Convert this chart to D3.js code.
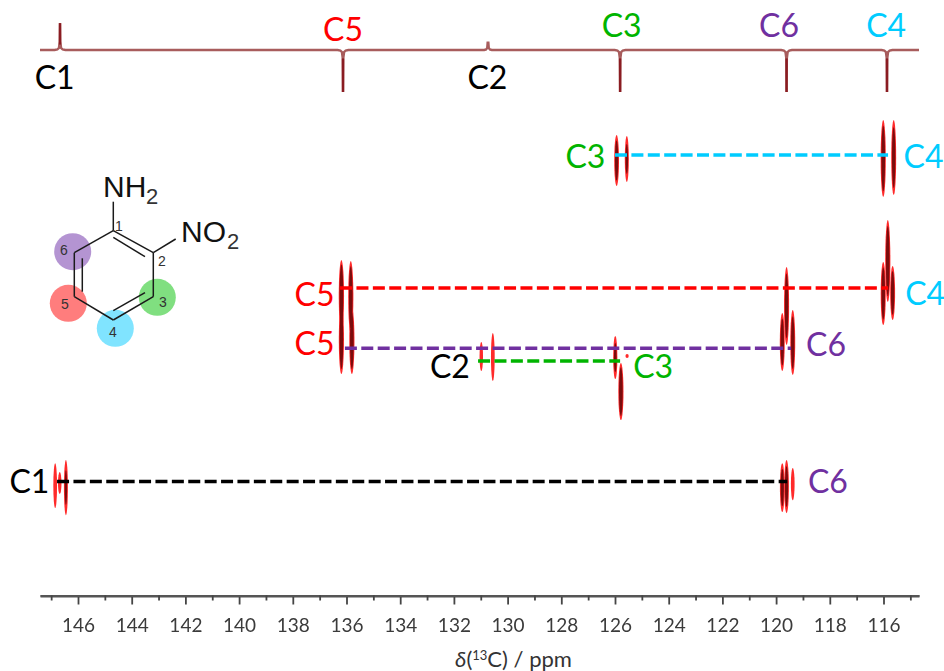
<!DOCTYPE html>
<html><head><meta charset="utf-8">
<script src="https://cdn.jsdelivr.net/npm/d3@7/dist/d3.min.js"></script>
<style>html,body{margin:0;padding:0;background:#fff}svg{display:block}</style></head>
<body><div id="chart"></div>
<script>
// ---- data ----
const majorTicks = [146,144,142,140,138,136,134,132,130,128,126,124,122,120,118,116];
const minorTicks = [147,145,143,141,139,137,135,133,131,129,127,125,123,121,119,117,115];
const axisTitle = "ppm";
// 1D spectrum: position (ppm) and signed intensity
const spectrumPpm = [146.67,136.13,130.73,125.81,119.61,115.87];
const spectrumInt = [0.64,-1,0.14,-1,-1,-1];
const carbonNames = ["C1","C5","C2","C3","C6","C4"];
// 2D contours: ppm, double-quantum range, strength
const peakPpm  = [125.94,125.56,116.01,115.62,136.19,135.84,136.19,135.8,130.98,130.55,125.99,125.78,125.55,119.61,119.77,119.38,116.01,115.84,115.66,146.85,146.68,146.45,119.77,119.61,119.38];
const peakLow  = [240.51,240.58,239.39,239.39,249.84,249.91,253.2,253.4,255.96,255.28,255.51,257.52,256.85,250.36,253.79,253.57,249.99,246.85,250.28,264.99,265.66,264.76,264.99,264.76,265.36];
const peakHigh = [244.31,244.01,245.13,244.99,255.2,255.3,258.34,258.34,258.12,258.87,258.72,261.78,257.15,256.18,258.12,258.42,254.69,252.97,254.31,268.34,267.30,268.87,268.64,268.72,267.75];
const peakPower= [0.75,0.45,0.9,0.8,0.95,0.9,0.9,0.9,0.2,0.3,0.5,0.9,0.1,0.85,0.8,0.8,0.85,0.9,0.8,0.3,0.2,0.4,0.7,0.7,0.3];
// correlation lines
const linkFrom = [126,136.24,136.06,131.1,146.78];
const linkTo   = [115.83,115.83,119.44,125.81,119.59];
const linkDq   = [242,251.93,256.41,257.37,266.36];
const linkKind = ["C4","C5","C6","C3","C1"];
// row labels: text, centre ppm, centre double-quantum value
const labelText = ["C3","C4","C5","C4","C5","C6","C2","C3","C1","C6"];
const labelPpm  = [127.1,114.51,137.19,114.45,137.19,118.14,132.15,124.58,147.81,118.07];
const labelDq   = [242.11,242.11,252.41,252.34,256.07,256.14,257.81,257.81,266.33,266.33];
// ---- colours ----
const carbonColor = {C1:"#000000",C2:"#000000",C3:"#00b400",C4:"#00ccff",C5:"#ff0000",C6:"#7030a0"};

const width=944,height=671;
const x=d3.scaleLinear().domain([146,116]).range([78,883.5]);
const y=d3.scaleLinear().domain([242,266.36]).range([155,481.5]);
const yI=d3.scaleLinear().domain([-1,1]).range([92,8]);
const svg=d3.select("#chart").append("svg").attr("width",width).attr("height",height)
  .attr("viewBox",`0 0 ${width} ${height}`)
  .style("font-family","Lato, 'Open Sans', sans-serif");
const defs=svg.append("defs");
defs.append("filter").attr("id","soft").attr("x","-50%").attr("width","200%")
  .append("feGaussianBlur").attr("stdDeviation",0.45);
defs.append("filter").attr("id","softer")
  .append("feGaussianBlur").attr("stdDeviation",0.3);

// ---- molecule ----
const mol=svg.append("g").attr("class","molecule");
const circles=[[72.7,251.7,"#b494d2"],[68.3,303.3,"#ff7d7d"],[115.3,328.3,"#80e4ff"],[157.3,297.3,"#80df80"]];
mol.selectAll("circle").data(circles).join("circle")
  .attr("cx",d=>d[0]).attr("cy",d=>d[1]).attr("r",18.5).attr("fill",d=>d[2]);
const bonds=[[113.3,230.7,153.3,252.7],[153.3,252.7,153.3,296.7],[153.3,296.7,113.3,320],[113.3,320,74.3,296.7],[74.3,296.7,74.3,252.7],[74.3,252.7,113.3,230.7],
 [113.3,201.7,113.3,230.7],[153.3,252.7,175.7,239],[113.3,237.3,145,256.7],[82.3,258.3,82.3,291.7],[145,292.7,113.3,310.7]];
mol.selectAll("line").data(bonds).join("line")
  .attr("x1",d=>d[0]).attr("y1",d=>d[1]).attr("x2",d=>d[2]).attr("y2",d=>d[3])
  .attr("stroke","#1a1a1a").attr("stroke-width",1.5);
const molFont="'Liberation Sans', Arial, sans-serif";
[["NH",103,197,30,"2",146,203.5],["NO",181,242,30,"2",227,249]].forEach(t=>{
  mol.append("text").attr("x",t[1]).attr("y",t[2]).attr("font-family",molFont).attr("font-size",t[3]).attr("fill","#111").text(t[0]);
  mol.append("text").attr("x",t[5]).attr("y",t[6]).attr("font-family",molFont).attr("font-size",22).attr("fill","#333").text(t[4]);
});
const nums=[["1",119,231],["2",162,266],["3",163,307],["4",113,337],["5",65,309],["6",64,255]];
mol.selectAll("text.num").data(nums).join("text").attr("class","num")
  .attr("x",d=>d[1]).attr("y",d=>d[2]).attr("text-anchor","middle")
  .attr("font-family",molFont).attr("font-size",14).attr("fill","#333").text(d=>d[0]);

// ---- 1D spectrum ----
const order=d3.range(spectrumPpm.length).sort((a,b)=>spectrumPpm[b]-spectrumPpm[a]);
const pts=[[x.invert(40),0]];
order.forEach(i=>{
  const p=spectrumPpm[i],v=spectrumInt[i],s=Math.sign(v),k=Math.abs(v);
  const w=k>0.5?1:0.7;
  pts.push([p+0.2*w,0],[p+0.1*w,s*0.012],[p+0.04*w,s*0.05],[p+0.01,s*0.2],[p,v],[p-0.01,s*0.2],[p-0.04*w,s*0.05],[p-0.1*w,s*0.012],[p-0.2*w,0]);
});
pts.push([x.invert(919),0]);
const sp=svg.append("g").attr("filter","url(#soft)");
sp.append("path").attr("fill","none").attr("stroke","#a85c5c").attr("stroke-width",2.4)
  .attr("d",d3.line().x(d=>x(d[0])).y(d=>yI(d[1]))(pts));
sp.selectAll("line").data(d3.range(spectrumPpm.length).filter(i=>Math.abs(spectrumInt[i])>0.5)).join("line")
  .attr("x1",i=>x(spectrumPpm[i])).attr("x2",i=>x(spectrumPpm[i]))
  .attr("y1",i=>yI(spectrumInt[i]*0.2)).attr("y2",i=>yI(spectrumInt[i]))
  .attr("stroke","#8a1f24").attr("stroke-width",2.4);

// ---- 1D labels ----
const above={C5:true,C3:true,C6:true,C4:true};
const topLabelPpm={C1:146.87,C5:136.13,C2:130.75,C3:125.75,C6:119.89,C4:115.9};
svg.append("g").selectAll("text").data(carbonNames).join("text")
  .attr("x",d=>x(topLabelPpm[d])).attr("y",d=>d==="C5"?41:(above[d]?37:89))
  .attr("text-anchor","middle").attr("font-size",32).attr("fill",d=>carbonColor[d]).text(d=>d);

// ---- 2D peaks ----
const pk=svg.append("g").attr("filter","url(#soft)");
const idx=d3.range(peakPpm.length);
pk.selectAll("ellipse.o").data(idx).join("ellipse").attr("class","o")
  .attr("cx",i=>x(peakPpm[i])).attr("cy",i=>y((peakLow[i]+peakHigh[i])/2))
  .attr("rx",i=>1.5+peakPower[i]*1.2).attr("ry",i=>(y(peakHigh[i])-y(peakLow[i]))/2)
  .attr("fill","#ff2a2a");
pk.selectAll("ellipse.i").data(idx.filter(i=>peakPower[i]>=0.4)).join("ellipse").attr("class","i")
  .attr("cx",i=>x(peakPpm[i])).attr("cy",i=>y((peakLow[i]+peakHigh[i])/2))
  .attr("rx",i=>0.7+peakPower[i]*1.2).attr("ry",i=>(y(peakHigh[i])-y(peakLow[i]))/2*(0.45+peakPower[i]*0.45))
  .attr("fill","#7a0a0e");

// ---- correlation lines ----
svg.append("g").selectAll("line").data(d3.range(linkFrom.length)).join("line")
  .attr("x1",i=>x(linkFrom[i])).attr("x2",i=>x(linkTo[i]))
  .attr("y1",i=>y(linkDq[i])).attr("y2",i=>y(linkDq[i]))
  .attr("stroke",i=>carbonColor[linkKind[i]]).attr("stroke-width",3.5).attr("stroke-dasharray","12 4.4");

// ---- row labels ----
svg.append("g").selectAll("text").data(d3.range(labelText.length)).join("text")
  .attr("x",i=>x(labelPpm[i])).attr("y",i=>y(labelDq[i])+11.5)
  .attr("text-anchor","middle").attr("font-size",32).attr("fill",i=>carbonColor[labelText[i]]).text(i=>labelText[i]);

// ---- axis ----
const ax=d3.scaleLinear().domain([x.invert(40),x.invert(919)]).range([40,919]);
const axisG=svg.append("g").attr("transform","translate(0,595.5)").attr("filter","url(#softer)");
axisG.call(d3.axisBottom(ax).tickValues(majorTicks).tickSize(9).tickSizeOuter(0).tickPadding(14).tickFormat(d3.format("d")));
const minorG=svg.append("g").attr("transform","translate(0,595.5)").attr("filter","url(#softer)");
minorG.call(d3.axisBottom(ax).tickValues(minorTicks).tickSize(5).tickSizeOuter(0).tickFormat(""));
[axisG,minorG].forEach(g=>{
  g.select(".domain").attr("stroke","#555").attr("stroke-width",2);
  g.selectAll(".tick line").attr("stroke","#444").attr("stroke-width",1.8);
});
axisG.selectAll(".tick text").attr("font-family","Lato, sans-serif").attr("font-size",19).attr("fill","#3a3a3a");
const title=svg.append("text").attr("x",513.5).attr("y",667).attr("text-anchor","middle").attr("font-size",22).attr("fill","#333");
title.append("tspan").attr("font-style","italic").text("δ");
title.append("tspan").text("(");
title.append("tspan").attr("font-size",13).attr("dy",-7).text("13");
title.append("tspan").attr("dy",7).text("C) / "+axisTitle);
</script></body></html>
